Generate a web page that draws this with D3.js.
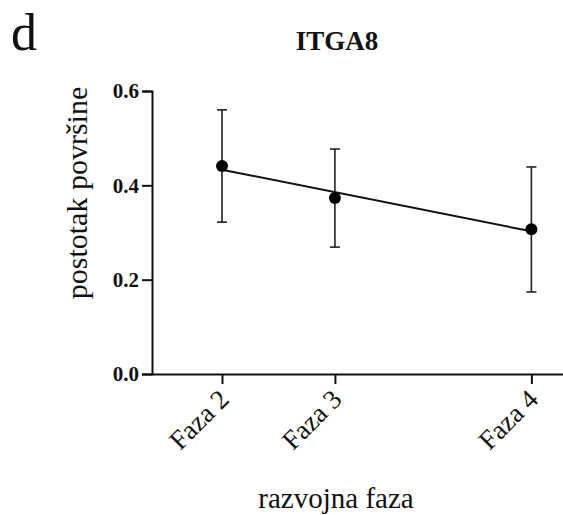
<!DOCTYPE html>
<html>
<head>
<meta charset="utf-8">
<script src="https://cdn.jsdelivr.net/npm/d3@7"></script>
<style>
  body { margin: 0; background: #fff; }
  svg { display: block; }
  text { font-family: "Liberation Serif", "Times New Roman", serif; fill: #111; }
</style>
</head>
<body>
<svg id="chart"></svg>
<script>
// data
var phases = ["Faza 2", "Faza 3", "Faza 4"];
var phaseX = [2, 3, 4.74];
var means = [0.441, 0.373, 0.307];
var upper = [0.560, 0.477, 0.439];
var lower = [0.322, 0.269, 0.174];
var yTicks = [0, 0.2, 0.4, 0.6];

var width = 563, height = 515;

var svg = d3.select("#chart")
    .attr("width", width)
    .attr("height", height);

// plot area
var x = d3.scaleLinear().domain([1.38, 5.02]).range([152, 563]);
var y = d3.scaleLinear().domain([0, 0.6]).range([374, 91]);

// panel letter and title
svg.append("text")
    .attr("x", 11).attr("y", 50)
    .style("font-size", "52px")
    .text("d");

svg.append("text")
    .attr("x", 337).attr("y", 50)
    .attr("text-anchor", "middle")
    .style("font-size", "27px")
    .style("font-weight", "bold")
    .text("ITGA8");

// y axis
var yAxis = d3.axisLeft(y)
    .tickValues(yTicks)
    .tickFormat(d3.format(".1f"))
    .tickSize(10)
    .tickPadding(3);

var gy = svg.append("g")
    .attr("transform", "translate(" + x.range()[0] + ",0)")
    .call(yAxis);
gy.select(".domain").attr("stroke", "#111").attr("stroke-width", 2);
gy.selectAll(".tick line").attr("stroke", "#111").attr("stroke-width", 2);
gy.selectAll(".tick text")
    .style("font-size", "21px")
    .style("font-weight", "bold")
    .style("font-family", "'Liberation Serif', serif");

// x axis
var xAxis = d3.axisBottom(x)
    .tickValues(phaseX)
    .tickFormat(function(d, i) { return phases[i]; })
    .tickSize(10)
    .tickSizeOuter(0);

var gx = svg.append("g")
    .attr("transform", "translate(0," + y(0) + ")")
    .call(xAxis);
gx.select(".domain").attr("stroke", "#111").attr("stroke-width", 2);
gx.selectAll(".tick line").attr("stroke", "#111").attr("stroke-width", 2);
gx.selectAll(".tick text")
    .style("font-size", "27px")
    .style("font-family", "'Liberation Serif', serif")
    .attr("text-anchor", "end")
    .attr("dy", null)
    .attr("y", 0)
    .attr("transform", "translate(8,27) rotate(-45)");

// axis titles
svg.append("text")
    .attr("transform", "translate(87,193) rotate(-90)")
    .attr("text-anchor", "middle")
    .style("font-size", "30px")
    .text("postotak površine");

svg.append("text")
    .attr("x", 336).attr("y", 508)
    .attr("text-anchor", "middle")
    .style("font-size", "29px")
    .text("razvojna faza");

// linear regression through the means
var mx = d3.mean(phaseX), my = d3.mean(means);
var sxy = d3.sum(phaseX, function(v, i) { return (v - mx) * (means[i] - my); });
var sxx = d3.sum(phaseX, function(v) { return (v - mx) * (v - mx); });
var slope = sxy / sxx, icpt = my - slope * mx;
var x0 = d3.min(phaseX), x1 = d3.max(phaseX);

svg.append("line")
    .attr("x1", x(x0)).attr("y1", y(icpt + slope * x0))
    .attr("x2", x(x1)).attr("y2", y(icpt + slope * x1))
    .attr("stroke", "#111")
    .attr("stroke-width", 2);

// error bars
var bars = svg.append("g").attr("class", "errors");
phaseX.forEach(function(v, i) {
    bars.append("line")
        .attr("x1", x(v)).attr("x2", x(v))
        .attr("y1", y(lower[i])).attr("y2", y(upper[i]))
        .attr("stroke", "#222").attr("stroke-width", 1.6);
    [lower[i], upper[i]].forEach(function(e) {
        bars.append("line")
            .attr("x1", x(v) - 5).attr("x2", x(v) + 5)
            .attr("y1", y(e)).attr("y2", y(e))
            .attr("stroke", "#222").attr("stroke-width", 1.6);
    });
});

// points
svg.append("g").selectAll("circle")
    .data(means)
    .enter().append("circle")
    .attr("cx", function(d, i) { return x(phaseX[i]); })
    .attr("cy", function(d) { return y(d); })
    .attr("r", 6)
    .attr("fill", "#000");
</script>
</body>
</html>
